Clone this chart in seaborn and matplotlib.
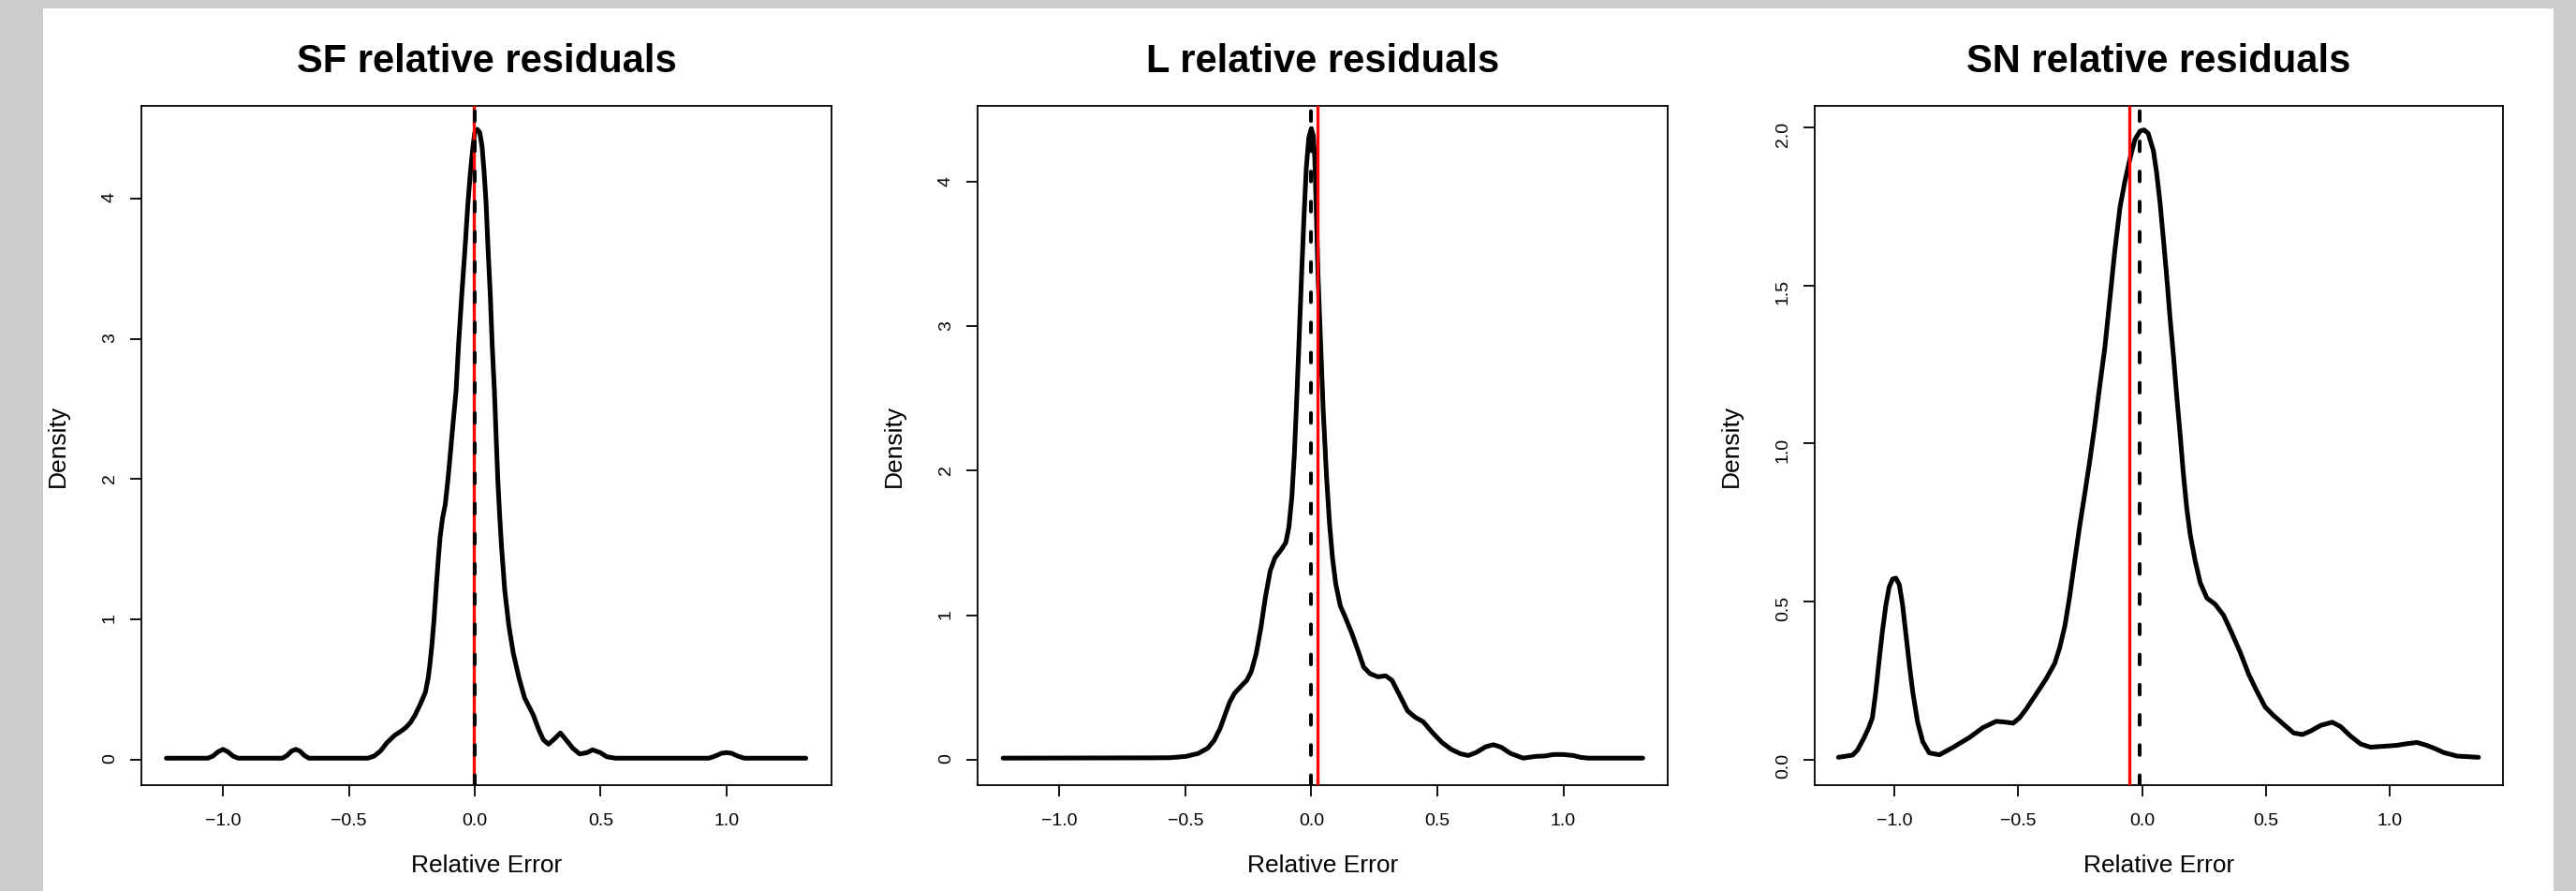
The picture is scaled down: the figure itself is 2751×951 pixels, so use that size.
import matplotlib
matplotlib.use("Agg")
import matplotlib.pyplot as plt
import seaborn as sns
from matplotlib.patches import Rectangle

# ---------------- data ----------------
titles = ["SF relative residuals", "L relative residuals", "SN relative residuals"]

sf_x = [-1.225, -1.06, -1.04, -1.02, -1.0, -0.98, -0.96, -0.94,
        -0.764, -0.745, -0.728, -0.711, -0.694, -0.677, -0.659,
        -0.424, -0.40, -0.375, -0.35, -0.318, -0.295, -0.274, -0.255, -0.237,
        -0.215, -0.196, -0.185, -0.178, -0.17, -0.162, -0.154, -0.146, -0.138,
        -0.128, -0.117, -0.108, -0.101, -0.088, -0.074, -0.064, -0.052, -0.039,
        -0.027, -0.017, -0.007, 0.0, 0.01, 0.02, 0.029, 0.037, 0.045, 0.053,
        0.062, 0.069, 0.078, 0.085, 0.092, 0.099, 0.106, 0.119, 0.135, 0.153,
        0.176, 0.198, 0.215, 0.232, 0.255, 0.273, 0.293, 0.318, 0.34, 0.363,
        0.39, 0.417, 0.446, 0.468, 0.498, 0.525, 0.559,
        0.93, 0.955, 0.98, 1.0, 1.02, 1.045, 1.07, 1.315]
sf_y = [0.01, 0.01, 0.025, 0.055, 0.073, 0.055, 0.025, 0.01,
        0.01, 0.03, 0.06, 0.073, 0.06, 0.03, 0.01,
        0.01, 0.025, 0.06, 0.118, 0.173, 0.20, 0.228, 0.265, 0.318,
        0.40, 0.48, 0.58, 0.68, 0.82, 0.99, 1.20, 1.40, 1.58,
        1.72, 1.82, 1.97, 2.10, 2.36, 2.633, 2.967, 3.301, 3.635,
        3.969, 4.192, 4.37, 4.47, 4.493, 4.47, 4.37, 4.192, 3.969, 3.635,
        3.301, 2.967, 2.633, 2.30, 1.98, 1.74, 1.53, 1.21, 0.96, 0.76,
        0.58, 0.44, 0.38, 0.32, 0.21, 0.14, 0.11, 0.15, 0.19, 0.14,
        0.08, 0.04, 0.05, 0.07, 0.05, 0.02, 0.01,
        0.01, 0.025, 0.045, 0.05, 0.045, 0.025, 0.01, 0.01]

l_x = [-1.223, -0.62, -0.56, -0.497, -0.448, -0.411, -0.386, -0.362, -0.343,
       -0.324, -0.305, -0.281, -0.256, -0.238, -0.219, -0.2, -0.182, -0.163,
       -0.144, -0.12, -0.101, -0.089, -0.077, -0.067, -0.058, -0.049, -0.039,
       -0.029, -0.02, -0.01, 0.0, 0.008, 0.014, 0.02, 0.027, 0.037, 0.047,
       0.06, 0.072, 0.084, 0.097, 0.115, 0.134, 0.159, 0.184, 0.208, 0.233,
       0.264, 0.295, 0.32, 0.351, 0.382, 0.413, 0.444, 0.481, 0.518, 0.555,
       0.592, 0.623, 0.654, 0.691, 0.722, 0.753, 0.79, 0.84, 0.89, 0.927,
       0.96, 1.0, 1.04, 1.07, 1.1, 1.315]
l_y = [0.01, 0.012, 0.013, 0.022, 0.043, 0.079, 0.131, 0.215, 0.307,
       0.397, 0.458, 0.504, 0.549, 0.61, 0.731, 0.913, 1.125, 1.307,
       1.398, 1.452, 1.503, 1.609, 1.821, 2.124, 2.488, 2.882, 3.336,
       3.76, 4.094, 4.306, 4.37, 4.32, 4.154, 3.79, 3.336, 2.882, 2.427,
       1.973, 1.64, 1.398, 1.216, 1.065, 0.989, 0.883, 0.761, 0.64, 0.595,
       0.573, 0.58, 0.549, 0.444, 0.337, 0.292, 0.262, 0.186, 0.119, 0.071,
       0.04, 0.028, 0.049, 0.088, 0.103, 0.086, 0.043, 0.01, 0.022, 0.025,
       0.035, 0.035, 0.028, 0.015, 0.01, 0.01]

sn_x = [-1.227, -1.17, -1.15, -1.124, -1.105, -1.09, -1.076, -1.063, -1.049,
        -1.035, -1.022, -1.008, -0.995, -0.981, -0.968, -0.954, -0.94, -0.927,
        -0.907, -0.886, -0.86, -0.819, -0.765, -0.697, -0.643, -0.589, -0.549,
        -0.521, -0.495, -0.468, -0.427, -0.387, -0.353, -0.333, -0.312, -0.292,
        -0.272, -0.252, -0.231, -0.211, -0.191, -0.171, -0.15, -0.13, -0.11,
        -0.089, -0.069, -0.049, -0.029, -0.008, 0.008, 0.025, 0.046, 0.059,
        0.073, 0.086, 0.1, 0.113, 0.127, 0.14, 0.154, 0.167, 0.181, 0.195,
        0.215, 0.235, 0.262, 0.296, 0.33, 0.363, 0.397, 0.431, 0.465, 0.498,
        0.532, 0.573, 0.613, 0.648, 0.681, 0.722, 0.769, 0.803, 0.843, 0.884,
        0.924, 0.978, 1.03, 1.07, 1.112, 1.15, 1.18, 1.22, 1.273, 1.36]
sn_y = [0.007, 0.014, 0.03, 0.068, 0.10, 0.132, 0.215, 0.311, 0.408,
        0.49, 0.546, 0.571, 0.574, 0.553, 0.49, 0.394, 0.297, 0.215,
        0.118, 0.056, 0.021, 0.015, 0.038, 0.07, 0.101, 0.121, 0.118,
        0.115, 0.132, 0.16, 0.208, 0.256, 0.304, 0.353, 0.422, 0.518,
        0.629, 0.739, 0.843, 0.946, 1.057, 1.181, 1.305, 1.457, 1.609,
        1.747, 1.83, 1.9, 1.961, 1.988, 1.992, 1.981, 1.926, 1.857,
        1.76, 1.65, 1.526, 1.40, 1.278, 1.153, 1.029, 0.905, 0.794, 0.711,
        0.628, 0.56, 0.511, 0.491, 0.456, 0.40, 0.339, 0.27, 0.215, 0.166,
        0.139, 0.111, 0.084, 0.079, 0.09, 0.108, 0.118, 0.104, 0.074, 0.049,
        0.039, 0.042, 0.045, 0.05, 0.054, 0.045, 0.036, 0.022, 0.011, 0.007]

mean_lines = [-0.005, 0.026, -0.052]   # red solid lines
zero_lines = [0.0, 0.0, -0.01]         # black dashed lines

x_ticks = [-1.0, -0.5, 0.0, 0.5, 1.0]
x_ticklabels = ["\u22121.0", "\u22120.5", "0.0", "0.5", "1.0"]
y_ticks = [[0, 1, 2, 3, 4], [0, 1, 2, 3, 4], [0.0, 0.5, 1.0, 1.5, 2.0]]
y_ticklabels = [["0", "1", "2", "3", "4"], ["0", "1", "2", "3", "4"],
                ["0.0", "0.5", "1.0", "1.5", "2.0"]]

curves = [(sf_x, sf_y), (l_x, l_y), (sn_x, sn_y)]

# ---------------- layout ----------------
W, H = 2751, 951
xlims = [(-1.324, 1.417), (-1.324, 1.414), (-1.323, 1.459)]
ylims = [(-0.182, 4.66), (-0.177, 4.527), (-0.081, 2.068)]
axes_px = [(151, 888), (1044, 1781), (1938, 2673)]
top_px, bot_px = 113, 838

sns.set_theme(style="ticks")
plt.rcParams["font.family"] = ["Liberation Sans", "DejaVu Sans"]

fig = plt.figure(figsize=(W / 100, H / 100), dpi=100, facecolor="#cccccc")
fig.add_artist(Rectangle((46 / W, 0), (2727 - 46) / W, (H - 9) / H,
                         transform=fig.transFigure, facecolor="white",
                         edgecolor="none", zorder=-5))

for i in range(3):
    l, r = axes_px[i]
    ax = fig.add_axes([l / W, (H - bot_px) / H, (r - l) / W, (bot_px - top_px) / H])
    ax.set_facecolor("white")
    xs, ys = curves[i]
    sns.lineplot(x=xs, y=ys, ax=ax, color="black", linewidth=3.6,
                 estimator=None, sort=False, zorder=3)
    for ln in ax.lines:
        ln.set_solid_joinstyle("round")
        ln.set_solid_capstyle("round")
    ax.axvline(mean_lines[i], color="#ff0000", linewidth=2.4, zorder=4)
    ax.axvline(zero_lines[i], color="black", linewidth=2.9,
               linestyle=(0, (2.6, 5.4)), dash_capstyle="round", zorder=5)
    ax.set_xlim(*xlims[i])
    ax.set_ylim(*ylims[i])
    ax.set_xticks(x_ticks)
    ax.set_xticklabels(x_ticklabels)
    ax.set_yticks(y_ticks[i])
    ax.set_yticklabels(y_ticklabels[i])
    for sp in ax.spines.values():
        sp.set_visible(True)
        sp.set_color("black")
        sp.set_linewidth(1.3)
    ax.tick_params(axis="both", direction="out", length=8.6, width=1.3,
                   colors="black", labelsize=14, bottom=True, left=True)
    ax.tick_params(axis="x", pad=13)
    ax.tick_params(axis="y", pad=9.5, labelrotation=90)
    ax.set_xlabel("Relative Error", fontsize=19, labelpad=19.5, color="black")
    ax.set_ylabel("Density", fontsize=19, labelpad=25, color="black")
    ax.set_title(titles[i], fontsize=30, fontweight="bold", pad=26, color="black")
    ax.grid(False)

fig.savefig("out.png", dpi=100, facecolor=fig.get_facecolor())
